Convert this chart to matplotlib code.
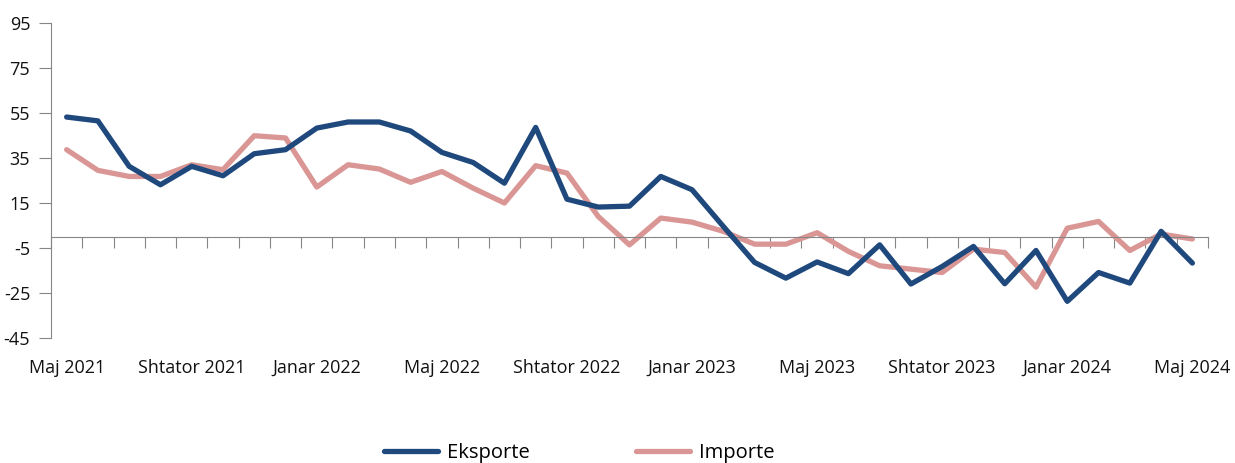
import matplotlib
matplotlib.use("Agg")
import matplotlib.pyplot as plt
import numpy as np

months = ["Maj 2021", "Qershor 2021", "Korrik 2021", "Gusht 2021", "Shtator 2021", "Tetor 2021",
          "Nëntor 2021", "Dhjetor 2021", "Janar 2022", "Shkurt 2022", "Mars 2022", "Prill 2022",
          "Maj 2022", "Qershor 2022", "Korrik 2022", "Gusht 2022", "Shtator 2022", "Tetor 2022",
          "Nëntor 2022", "Dhjetor 2022", "Janar 2023", "Shkurt 2023", "Mars 2023", "Prill 2023",
          "Maj 2023", "Qershor 2023", "Korrik 2023", "Gusht 2023", "Shtator 2023", "Tetor 2023",
          "Nëntor 2023", "Dhjetor 2023", "Janar 2024", "Shkurt 2024", "Mars 2024", "Prill 2024",
          "Maj 2024"]

eksporte = [53.2, 51.5, 31.3, 23.1, 31.3, 27.1, 36.9, 38.7, 48.3, 51.0, 51.0, 47.0,
            37.5, 33.0, 23.8, 48.6, 16.7, 13.2, 13.6, 26.8, 20.9, 4.6, -11.4, -18.4,
            -11.2, -16.4, -3.6, -21.0, -13.2, -4.3, -20.9, -6.1, -28.7, -15.9, -20.6, 2.4,
            -11.7]

importe = [38.7, 29.5, 26.8, 26.8, 32.0, 29.8, 44.9, 43.9, 22.1, 32.0, 30.1, 24.2,
           29.0, 21.6, 15.0, 31.6, 28.3, 9.0, -3.6, 8.3, 6.5, 2.4, -3.3, -3.3,
           1.8, -6.5, -12.9, -14.4, -15.9, -5.5, -7.0, -22.4, 3.8, 6.8, -6.1, 1.2,
           -1.0]

yticks = [-45, -25, -5, 15, 35, 55, 75, 95]

blue = "#1F497D"
pink = "#D99694"
gray = "#868686"
font = ["Open Sans", "DejaVu Sans"]
plt.rcParams["font.family"] = font

fig = plt.figure(figsize=(12.35, 4.63), dpi=100)
ax = fig.add_axes([51/1235, 1 - 338/463, (1208 - 51)/1235, (338 - 23)/463])

x = np.arange(len(months))
ax.plot(x, eksporte, color=blue, lw=3.8, label="Eksporte", solid_capstyle="round", zorder=3)
ax.plot(x, importe, color=pink, lw=3.8, label="Importe", solid_capstyle="round", zorder=2)

ax.set_xlim(-0.5, len(months) - 0.5)
ax.set_ylim(-45, 95)

for s in ["top", "right"]:
    ax.spines[s].set_visible(False)
ax.spines["left"].set_color(gray)
ax.spines["bottom"].set_color(gray)
ax.spines["bottom"].set_position(("data", 0))

ax.set_yticks(yticks)
ax.set_yticklabels([str(v) for v in yticks], fontsize=13, color="#111111")
ax.tick_params(axis="y", length=9, color=gray, pad=6)

ax.set_xticks(np.arange(-0.5, len(months), 1))
ax.set_xticklabels([])
ax.tick_params(axis="x", length=8, color=gray, direction="out")

sec = ax.secondary_xaxis(location=0)
sec.set_xticks(x[::4])
sec.set_xticklabels([months[i] for i in x[::4]], fontsize=13, color="#111111")
sec.tick_params(length=0, pad=15)
sec.spines["bottom"].set_visible(False)

fig.legend(loc="center", bbox_to_anchor=(0.469, 0.022), ncol=2, frameon=False,
           fontsize=14.5, handlelength=2.65, handletextpad=0.45, columnspacing=5.3)

fig.savefig("out.png", dpi=100)
